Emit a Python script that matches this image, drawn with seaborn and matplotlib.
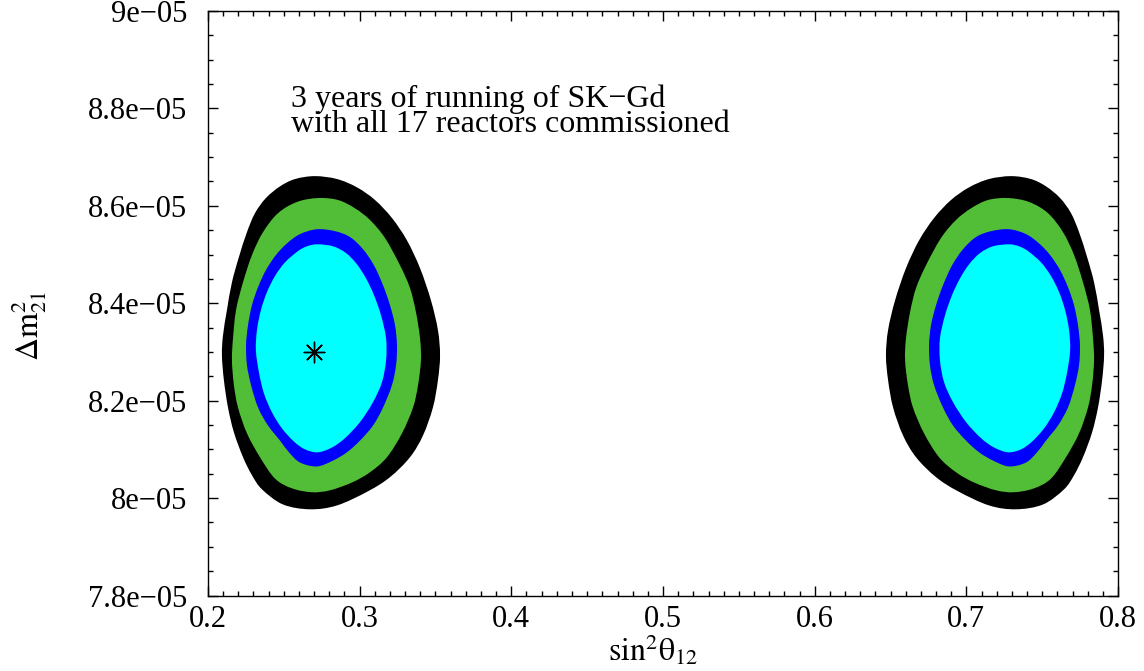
#importing the libraries needed
import numpy as np
import matplotlib
matplotlib.use('Agg')
import matplotlib.pyplot as plt
import seaborn as sns
from matplotlib.ticker import MultipleLocator
from matplotlib.path import Path
from matplotlib.patches import PathPatch

# allowed region contours (sin^2 theta12, dm^2_21 in units of 1e-5 eV^2)
# outermost (black) contour, lower octant, clockwise from the top
black_s12 = [0.2705, 0.2851, 0.2982, 0.3101, 0.3213, 0.3312, 0.3398, 0.3470, 0.3516, 0.3530,
             0.3516, 0.3483, 0.3418, 0.3332, 0.3200, 0.3055, 0.2851, 0.2673, 0.2494, 0.2356,
             0.2290, 0.2231, 0.2171, 0.2132, 0.2105, 0.2092, 0.2099, 0.2125, 0.2158, 0.2204,
             0.2257, 0.2310, 0.2382, 0.2475, 0.2574]
black_dm = [8.661, 8.655, 8.638, 8.612, 8.575, 8.529, 8.472, 8.406, 8.345, 8.293,
            8.242, 8.186, 8.129, 8.084, 8.043, 8.014, 7.985, 7.977, 7.987, 8.018,
            8.047, 8.084, 8.135, 8.186, 8.242, 8.293, 8.334, 8.386, 8.443, 8.495,
            8.546, 8.585, 8.616, 8.640, 8.655]

# green contour
green_s12 = [0.2725, 0.2857, 0.2969, 0.3068, 0.3167, 0.3266, 0.3332, 0.3371, 0.3398, 0.3404,
             0.3385, 0.3352, 0.3279, 0.3180, 0.3068, 0.2949, 0.2804, 0.2686, 0.2554, 0.2442,
             0.2343, 0.2257, 0.2198, 0.2171, 0.2158, 0.2165, 0.2185, 0.2231, 0.2290, 0.2363,
             0.2462, 0.2587]
green_dm = [8.616, 8.612, 8.595, 8.571, 8.534, 8.478, 8.431, 8.382, 8.328, 8.283,
            8.232, 8.186, 8.133, 8.084, 8.053, 8.032, 8.016, 8.012, 8.020, 8.040,
            8.084, 8.133, 8.186, 8.232, 8.283, 8.328, 8.386, 8.443, 8.499, 8.546,
            8.585, 8.608]

# blue contour
blue_s12 = [0.2719, 0.2837, 0.2936, 0.3022, 0.3094, 0.3154, 0.3200, 0.3233, 0.3246, 0.3240,
            0.3213, 0.3154, 0.3088, 0.3002, 0.2916, 0.2824, 0.2719, 0.2607, 0.2534, 0.2475,
            0.2396, 0.2330, 0.2284, 0.2257, 0.2251, 0.2264, 0.2290, 0.2330, 0.2382, 0.2448,
            0.2521, 0.2607]
blue_dm = [8.552, 8.548, 8.536, 8.511, 8.478, 8.437, 8.396, 8.355, 8.314, 8.273,
           8.232, 8.186, 8.149, 8.118, 8.094, 8.077, 8.065, 8.073, 8.094, 8.118,
           8.149, 8.186, 8.232, 8.273, 8.314, 8.355, 8.396, 8.433, 8.468, 8.499,
           8.523, 8.542]

# innermost (cyan) contour
cyan_s12 = [0.2719, 0.2824, 0.2910, 0.2982, 0.3042, 0.3094, 0.3141, 0.3174, 0.3174, 0.3147,
            0.3088, 0.3002, 0.2903, 0.2818, 0.2725, 0.2640, 0.2567, 0.2488, 0.2422, 0.2369,
            0.2336, 0.2316, 0.2323, 0.2349, 0.2389, 0.2442, 0.2508, 0.2593, 0.2653]
cyan_dm = [8.521, 8.517, 8.503, 8.480, 8.451, 8.417, 8.375, 8.328, 8.283, 8.238,
           8.197, 8.156, 8.123, 8.104, 8.094, 8.100, 8.116, 8.143, 8.176, 8.215,
           8.258, 8.303, 8.345, 8.386, 8.423, 8.456, 8.484, 8.507, 8.517]

# best fit point
best_s12 = [0.27]
best_dm = [8.30]

x_ticks = [0.2, 0.3, 0.4, 0.5, 0.6, 0.7, 0.8]
x_tick_labels = ['0.2', '0.3', '0.4', '0.5', '0.6', '0.7', '0.8']
y_ticks = [7.8, 8.0, 8.2, 8.4, 8.6, 8.8, 9.0]
y_tick_labels = ['7.8e\u221205', '8e\u221205', '8.2e\u221205', '8.4e\u221205',
                 '8.6e\u221205', '8.8e\u221205', '9e\u221205']

contour_colors = ['black', '#52be38', '#0000ff', '#00ffff']


def smooth_region(xs, ys, color):
    # closed outline through the read points, drawn as cubic bezier pieces
    pts = np.column_stack([xs, ys])
    prv = np.roll(pts, 1, axis=0)
    nxt = np.roll(pts, -1, axis=0)
    nxt2 = np.roll(pts, -2, axis=0)
    verts = [pts[0]]
    codes = [Path.MOVETO]
    for i in range(len(pts)):
        c1 = pts[i] + (nxt[i] - prv[i]) / 6
        c2 = nxt[i] - (nxt2[i] - pts[i]) / 6
        verts += [c1, c2, nxt[i]]
        codes += [Path.CURVE4, Path.CURVE4, Path.CURVE4]
    verts.append(pts[0])
    codes.append(Path.CLOSEPOLY)
    return PathPatch(Path(verts, codes), facecolor=color, edgecolor='none', lw=0)


# set the style, then the fonts (set_theme resets font.family)
sns.set_theme(style='ticks')
plt.rcParams['font.family'] = ['Liberation Serif', 'DejaVu Serif']
plt.rcParams['mathtext.fontset'] = 'stix'
plt.rcParams['text.color'] = 'black'
plt.rcParams['xtick.color'] = 'black'
plt.rcParams['ytick.color'] = 'black'
plt.rcParams['axes.labelcolor'] = 'black'

fig = plt.figure(figsize=(11.44, 6.71), dpi=100)
ax = fig.add_axes([0.1818, 0.1125, 0.7955, 0.8711])

contours = [(black_s12, black_dm), (green_s12, green_dm), (blue_s12, blue_dm), (cyan_s12, cyan_dm)]

# lower octant regions, then the mirrored upper octant (theta12 -> 90 deg - theta12)
for (s12, dm), col in zip(contours, contour_colors):
    dm_vals = np.array(dm) * 1e-5
    ax.add_patch(smooth_region(s12, dm_vals, col))
    ax.add_patch(smooth_region(1 - np.array(s12), dm_vals, col))

# best fit marker
sns.scatterplot(x=best_s12, y=np.array(best_dm) * 1e-5, marker=(8, 2, 0), s=220,
                color='black', linewidth=1.0, ax=ax, zorder=5)

ax.set_xlim(0.2, 0.8)
ax.set_ylim(7.8e-5, 9e-5)
ax.set_xticks(x_ticks)
ax.set_xticklabels(x_tick_labels)
ax.set_yticks(np.array(y_ticks) * 1e-5)
ax.set_yticklabels(y_tick_labels)
ax.xaxis.set_minor_locator(MultipleLocator(0.01))
ax.yaxis.set_minor_locator(MultipleLocator(0.05e-5))
ax.tick_params(which='both', direction='in', top=True, right=True, width=1, color='black')
ax.tick_params(which='major', length=7.5, labelsize=22)
ax.tick_params(which='minor', length=3.8)
ax.tick_params(axis='x', which='major', pad=7)
ax.tick_params(axis='y', which='major', pad=15)
for sp in ax.spines.values():
    sp.set_color('black')
    sp.set_linewidth(1.0)

# annotation (baseline of the last line)
ax.text(0.2547, 8.752e-5, '3 years of running of SK\u2212Gd\nwith all 17 reactors commissioned',
        fontsize=23, va='baseline', linespacing=0.8)

# axis labels
fig.text(0.571, 0.031, r'$\mathrm{sin}^2\mathrm{\theta}_{12}$', fontsize=23, ha='center', va='center')
fig.text(0.026, 0.515, r'$\Delta \mathrm{m}^2_{21}$', fontsize=23, ha='center', va='center', rotation=90)

plt.savefig('out.png', dpi=100)
